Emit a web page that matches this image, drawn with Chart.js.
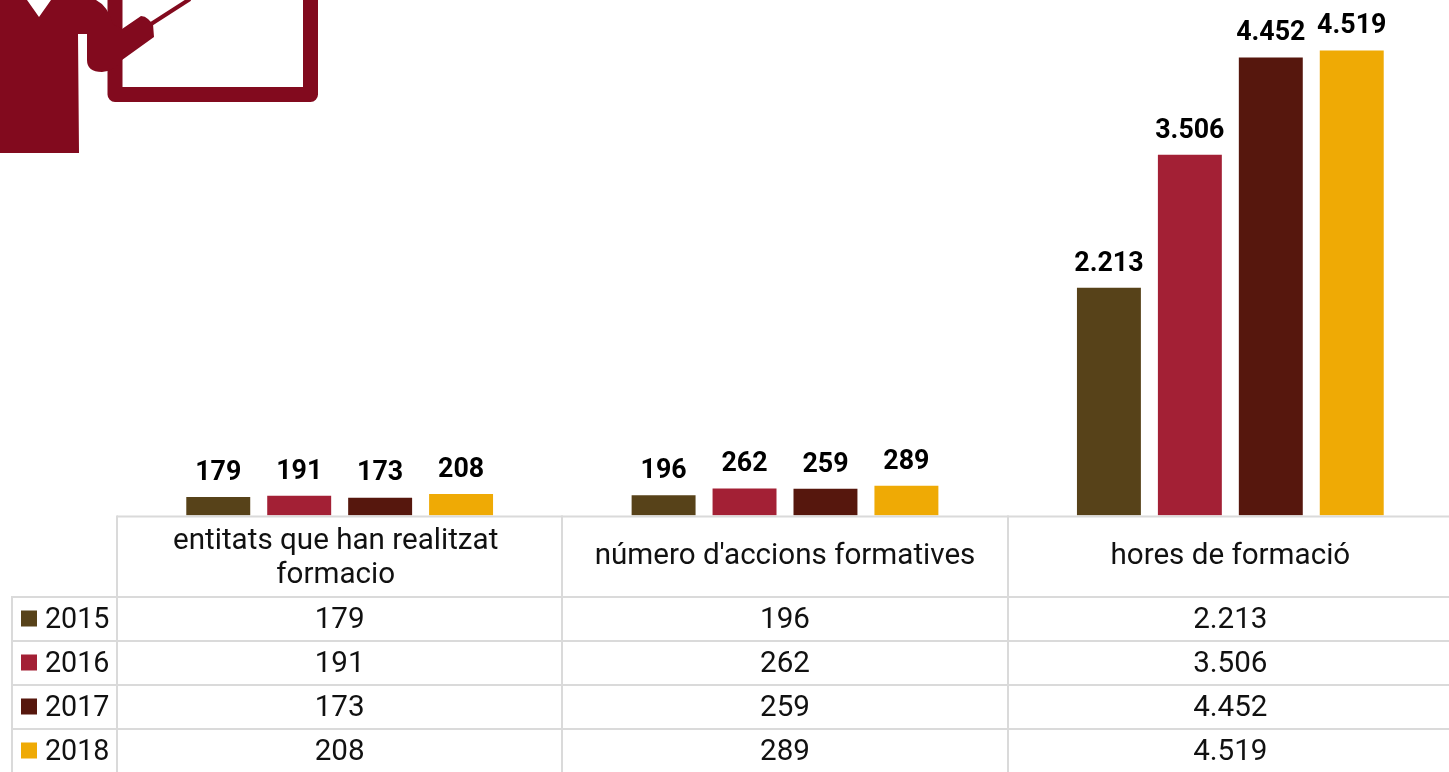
<!DOCTYPE html>
<html><head><meta charset="utf-8">
<style>html,body{margin:0;padding:0;background:#fff;overflow:hidden;width:1449px;height:772px}canvas{display:block}</style>
<script src="https://cdn.jsdelivr.net/npm/chart.js@4"></script>
</head><body><canvas id="c" width="1453" height="772" style="width:1453px;height:772px"></canvas>
<script>
const categories = [["entitats que han realitzat","formacio"],"número d'accions formatives","hores de formació"];
const years = ["2015","2016","2017","2018"];
const v2015 = [179,196,2213];
const v2016 = [191,262,3506];
const v2017 = [173,259,4452];
const v2018 = [208,289,4519];
const colors = ["#574219","#A32035","#56170D","#EFAA05"];
const allSeries = [v2015,v2016,v2017,v2018];
const fmt = n => n >= 1000 ? Math.floor(n/1000)+"."+String(n%1000).padStart(3,"0") : String(n);
const FONT = "Roboto, sans-serif";

const icon = {id:"icon",beforeDraw(ch){
  const g=ch.ctx; g.save(); g.fillStyle="#820A1E"; g.strokeStyle="#820A1E";
  // board
  g.lineWidth=15; g.lineJoin="round";
  g.beginPath(); g.moveTo(115,-10); g.lineTo(115,94.5); g.lineTo(310.5,94.5); g.lineTo(310.5,-10); g.stroke();
  // pointer
  g.lineWidth=4; g.beginPath(); g.moveTo(148,26); g.lineTo(190,-1); g.stroke();
  // person
  g.beginPath();
  g.moveTo(0,0); g.lineTo(27,0); g.lineTo(39,17); g.lineTo(51,0); g.lineTo(96,0);
  g.quadraticCurveTo(108,6,113,24); g.lineTo(122,29); g.lineTo(141,16); g.quadraticCurveTo(145,16,148,19);
  g.lineTo(153,24); g.lineTo(154,37); g.lineTo(122,60); g.quadraticCurveTo(112,72,102,72);
  g.quadraticCurveTo(87,72,87,60); g.lineTo(87,34); g.lineTo(78,34); g.lineTo(79,153); g.lineTo(0,153);
  g.closePath(); g.fill();
  g.restore();
}};

const table = {id:"table",afterDraw(ch){
  const g=ch.ctx, x=ch.scales.x, a=ch.chartArea;
  const step=x.getPixelForValue(1)-x.getPixelForValue(0);
  const xs=[0,1,2,3].map(i=>Math.round(x.getPixelForValue(0)-step/2+i*step));
  const rowY=[597,641,685,729,773];
  g.save();
  g.strokeStyle="#DADADA"; g.lineWidth=2;
  const line=(x1,y1,x2,y2)=>{g.beginPath();g.moveTo(x1,y1);g.lineTo(x2,y2);g.stroke();};
  line(xs[0],a.bottom+1,1453,a.bottom+1);
  rowY.forEach(y=>line(12,y,1453,y));
  xs.forEach(v=>line(v,a.bottom,v,773));
  line(12,596,12,773);
  g.fillStyle="#111"; g.font="29.6px "+FONT; g.textAlign="center"; g.textBaseline="middle";
  categories.forEach((c,i)=>{
    const cx=x.getPixelForValue(i);
    if(Array.isArray(c)){g.fillText(c[0],cx-4,541.5);g.fillText(c[1],cx-4,575.5);}
    else g.fillText(c,cx,557);
  });
  years.forEach((y,r)=>{
    const my=(rowY[r]+rowY[r+1])/2+1.5;
    g.fillStyle=colors[r]; g.fillRect(21,my-10,16,16);
    g.font="28.7px "+FONT;
    g.fillStyle="#111"; g.textAlign="left"; g.fillText(y,45,my);
    g.font="29.6px "+FONT;
    g.textAlign="center";
    allSeries[r].forEach((v,i)=>g.fillText(fmt(v),x.getPixelForValue(i),my));
  });
  g.restore();
}};

const labels = {id:"labels",afterDatasetsDraw(ch){
  const g=ch.ctx; g.save(); g.fillStyle="#000"; g.font="bold 26.8px "+FONT; g.textAlign="center"; g.textBaseline="bottom";
  ch.data.datasets.forEach((d,di)=>ch.getDatasetMeta(di).data.forEach((b,i)=>g.fillText(fmt(d.data[i]),b.x,b.y-10.5)));
  g.restore();
}};

new Chart(document.getElementById("c"),{
  type:"bar",
  data:{labels:categories,datasets:years.map((y,i)=>({label:y,data:allSeries[i],backgroundColor:colors[i],borderWidth:0}))},
  options:{
    responsive:false,animation:false,
    layout:{padding:{left:117,right:0,top:1,bottom:256.5}},
    plugins:{legend:{display:false},tooltip:{enabled:false}},
    scales:{
      x:{display:false,offset:true,grid:{display:false}},
      y:{display:false,min:0,max:5000,grid:{display:false}}
    },
    datasets:{bar:{categoryPercentage:0.727,barPercentage:0.79}}
  },
  plugins:[icon,labels,table]
});
</script></body></html>
